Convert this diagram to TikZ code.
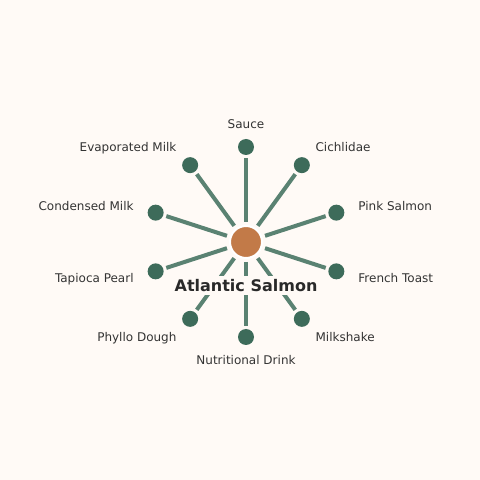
\documentclass[tikz,border=0pt]{standalone}
\usepackage{fontspec}
\setmainfont{DejaVu Sans}
\usetikzlibrary{calc}
\definecolor{paper}{HTML}{FFFAF6}
\definecolor{leaf}{HTML}{3D6B5A}
\definecolor{stem}{HTML}{5A8272}
\definecolor{salmon}{HTML}{C27A48}
\definecolor{ink}{HTML}{333333}
\tikzset{
  hub/.style={circle,fill=salmon,draw=white,line width=2pt,minimum size=32pt,inner sep=0pt},
  leafdot/.style={circle,fill=leaf,minimum size=16pt,inner sep=0pt},
  stemline/.style={stem,line width=4pt,shorten <=3pt,shorten >=3pt},
  leaflabel/.style={text=ink,font=\fontsize{12}{14}\selectfont,inner sep=0pt,text height=10pt,text depth=1pt},
  hublabel/.style={text=ink!80!black,font=\fontsize{16}{19}\selectfont\bfseries,fill=paper,inner sep=3pt}
}
\begin{document}
\begin{tikzpicture}[x=1pt,y=1pt]
    \useasboundingbox[fill=paper] (0,0) rectangle (480,480);
    \node[hub] (hub) at (246,238) {};
    \def\foods{Sauce/90/center,Cichlidae/54/west,Pink Salmon/18/west,French Toast/-18/west,Milkshake/-54/west,Nutritional Drink/-90/center,Phyllo Dough/-126/east,Tapioca Pearl/-162/east,Condensed Milk/162/east,Evaporated Milk/126/east}
    \foreach \f/\a/\s [count=\i from 1] in \foods {\node[leafdot] (f\i) at ($(hub)+(\a:95)$) {};}
    \foreach \f/\a/\s [count=\i from 1] in \foods {\node[leaflabel,anchor=\s] (t\i) at ($(hub)+(\a:118)$) {\f};}
    \foreach \i in {1,...,10} {\draw[stemline] (hub)--(f\i);}
    \node[hublabel,anchor=base] (name) at (246,188.5) {Atlantic Salmon};
  \end{tikzpicture}
\end{document}
